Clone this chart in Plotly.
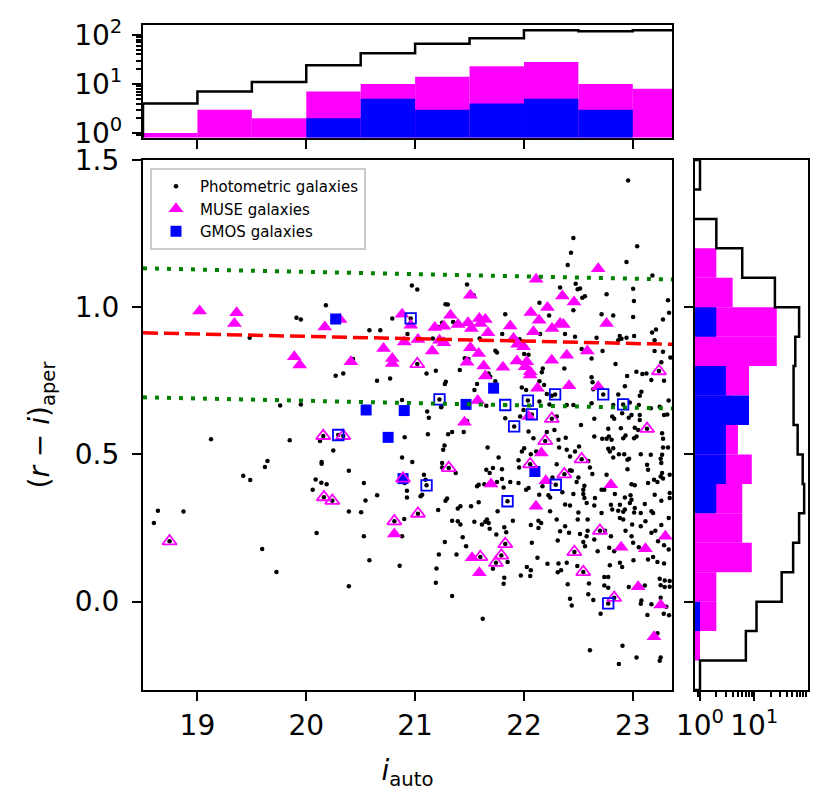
import numpy as np
import plotly.graph_objects as go

# ---- colour-magnitude data: (i_auto, (r-i)_aper) ----
phot_points = [
    (20.18, 1.007), (19.91, 0.964), (19.95, 0.958), (19.48, 0.896), (20.58, 0.922), (20.68, 0.922),
    (20.79, 0.962), (20.97, 1.074), (21.02, 1.06), (20.93, 0.909), (20.43, 0.824), (20.27, 0.767),
    (20.34, 0.775), (20.65, 0.75), (20.77, 0.758), (19.76, 0.666), (19.95, 0.67), (20.88, 0.685),
    (22.957, 1.430), (22.454, 1.235), (23.04, 1.207), (22.432, 1.185), (22.942, 1.154), (22.402, 1.143),
    (23.18, 1.108), (21.477, 1.077), (21.538, 1.041), (22.332, 1.067), (22.475, 1.080), (22.493, 1.061),
    (22.515, 1.064), (22.536, 1.032), (22.56, 1.037), (22.759, 1.044), (23.003, 1.063), (23.01, 1.021),
    (23.323, 1.024), (21.279, 1.010), (21.30, 1.009), (22.142, 1.015), (22.231, 0.972), (22.454, 0.990),
    (22.713, 0.976), (22.82, 0.972), (23.003, 0.967), (23.333, 0.981), (21.828, 0.976), (23.277, 0.958),
    (21.248, 0.947), (21.218, 0.933), (21.349, 0.950), (21.593, 0.894), (21.80, 0.909), (21.96, 0.891),
    (22.148, 0.909), (22.377, 0.909), (22.469, 0.900), (22.667, 0.896), (22.88, 0.902), (22.896, 0.893),
    (22.942, 0.896), (23.177, 0.914), (23.213, 0.924), (23.20, 0.888), (23.012, 0.902), (21.163, 0.894),
    (21.996, 0.883), (22.866, 0.888), (22.53, 0.858), (22.621, 0.826), (22.722, 0.851), (23.20, 0.851),
    (23.277, 0.849), (23.345, 0.829), (21.737, 0.852), (21.752, 0.846), (22.002, 0.841), (22.042, 0.839),
    (21.456, 0.827), (21.49, 0.824), (23.262, 0.813), (21.105, 0.775), (21.19, 0.784), (21.41, 0.787),
    (22.173, 0.792), (22.164, 0.779), (22.371, 0.792), (22.841, 0.807), (23.033, 0.781), (23.088, 0.773),
    (23.125, 0.775), (22.948, 0.766), (23.17, 0.753), (23.287, 0.750), (22.621, 0.762), (22.63, 0.745),
    (22.636, 0.721), (23.079, 0.713), (23.064, 0.699), (22.927, 0.732), (22.866, 0.704), (21.282, 0.747),
    (21.273, 0.739), (21.569, 0.739), (21.545, 0.719), (21.675, 0.775), (21.69, 0.764), (21.737, 0.749),
    (21.98, 0.727), (22.02, 0.719), (22.142, 0.749), (22.185, 0.736), (22.21, 0.705), (22.255, 0.699),
    (22.142, 0.680), (22.234, 0.670), (22.393, 0.668), (22.454, 0.668), (22.621, 0.674), (22.82, 0.668),
    (22.972, 0.676), (23.055, 0.668), (23.329, 0.683), (23.247, 0.662), (21.24, 0.660), (21.599, 0.676),
    (21.654, 0.665),
    (19.125, 0.552), (19.848, 0.548), (20.126, 0.546), (20.248, 0.513), (20.904, 0.558), (20.88, 0.490),
    (19.644, 0.478), (19.62, 0.457), (20.141, 0.474), (20.141, 0.468), (20.391, 0.445), (19.421, 0.428),
    (19.485, 0.413), (20.086, 0.415), (20.138, 0.404), (20.187, 0.399), (20.059, 0.380), (20.529, 0.403),
    (20.651, 0.361), (20.544, 0.344), (20.925, 0.377), (20.925, 0.354), (18.637, 0.309), (18.872, 0.306),
    (18.6, 0.267), (20.391, 0.306), (20.504, 0.304), (20.9, 0.281), (20.095, 0.233), (20.529, 0.222),
    (20.88, 0.222), (19.595, 0.179), (20.58, 0.141), (20.858, 0.122), (19.726, 0.101), (20.391, 0.052),
    (21.111, 0.646), (21.126, 0.625), (21.239, 0.662), (21.477, 0.614), (21.828, 0.623), (21.965, 0.629),
    (21.996, 0.651), (21.117, 0.569), (21.303, 0.569), (21.34, 0.576), (21.447, 0.576), (22.042, 0.578),
    (22.087, 0.555), (21.27, 0.530), (21.258, 0.516), (21.666, 0.524), (21.981, 0.510), (22.002, 0.521),
    (22.063, 0.501), (22.112, 0.510), (20.974, 0.474), (21.248, 0.471), (21.248, 0.456), (21.373, 0.437),
    (21.767, 0.490), (21.95, 0.480), (21.956, 0.456), (21.654, 0.448), (21.715, 0.454), (21.798, 0.450),
    (21.685, 0.437), (21.081, 0.431), (21.096, 0.414), (20.904, 0.403), (21.569, 0.392), (21.584, 0.397),
    (21.636, 0.399), (21.752, 0.406), (21.798, 0.417), (21.813, 0.388), (21.874, 0.406), (21.95, 0.403),
    (22.02, 0.380), (22.042, 0.386), (21.05, 0.358), (21.065, 0.363), (21.279, 0.343), (21.294, 0.350),
    (21.514, 0.324), (21.584, 0.338), (21.392, 0.316), (21.416, 0.324), (21.212, 0.311), (21.758, 0.307),
    (21.34, 0.275), (21.392, 0.273), (21.416, 0.262), (21.544, 0.271), (21.614, 0.262), (21.66, 0.279),
    (21.676, 0.267), (21.645, 0.271), (21.685, 0.248), (21.746, 0.228), (21.819, 0.253), (21.837, 0.236),
    (21.898, 0.275), (22.063, 0.260), (22.133, 0.275), (22.133, 0.250), (21.273, 0.203), (21.437, 0.219),
    (21.468, 0.188), (22.072, 0.200),
    (22.301, 0.629), (22.524, 0.600), (22.646, 0.621), (22.829, 0.621), (22.811, 0.629), (22.902, 0.640),
    (22.963, 0.625), (22.988, 0.634), (23.064, 0.634), (23.064, 0.617), (23.165, 0.657), (23.287, 0.634),
    (23.317, 0.636), (22.774, 0.587), (22.78, 0.561), (22.89, 0.589), (23.018, 0.591), (23.049, 0.583),
    (22.21, 0.576), (22.28, 0.583), (22.646, 0.561), (22.933, 0.564), (22.912, 0.555), (23.012, 0.555),
    (23.034, 0.561), (23.269, 0.572), (23.278, 0.553), (22.317, 0.550), (22.384, 0.557), (22.719, 0.553),
    (22.759, 0.553), (22.805, 0.550), (22.774, 0.519), (22.82, 0.521), (22.789, 0.510), (22.323, 0.524),
    (22.393, 0.516), (22.469, 0.510), (22.506, 0.527), (22.423, 0.493), (22.872, 0.501), (22.921, 0.501),
    (22.82, 0.490), (23.073, 0.501), (23.165, 0.499), (23.269, 0.499), (23.278, 0.524), (23.323, 0.524),
    (23.256, 0.485), (23.262, 0.471), (22.966, 0.485), (22.951, 0.482), (22.591, 0.478), (23.131, 0.465),
    (23.14, 0.448), (22.301, 0.467), (22.423, 0.446), (22.439, 0.445), (22.606, 0.456), (22.628, 0.434),
    (22.759, 0.431), (22.951, 0.450), (23.269, 0.437), (23.256, 0.425), (23.278, 0.418), (23.195, 0.414),
    (23.226, 0.406), (23.339, 0.431), (22.5, 0.422), (22.484, 0.406), (22.262, 0.422), (22.555, 0.394),
    (22.545, 0.380), (22.988, 0.399), (23.018, 0.395), (23.14, 0.403), (22.17, 0.392), (22.14, 0.363),
    (22.225, 0.361), (22.24, 0.354), (22.353, 0.372), (22.454, 0.366), (22.713, 0.380), (22.738, 0.380),
    (22.835, 0.366), (22.545, 0.366), (22.555, 0.352), (22.927, 0.354), (22.979, 0.361), (22.988, 0.346),
    (22.973, 0.335), (22.652, 0.352), (22.576, 0.335), (22.378, 0.330), (22.423, 0.327), (22.646, 0.327),
    (23.11, 0.332), (23.201, 0.363), (23.339, 0.352), (23.262, 0.343), (22.799, 0.329), (22.811, 0.313),
    (22.881, 0.329), (22.866, 0.309), (22.912, 0.305), (22.927, 0.313), (23.018, 0.318), (23.012, 0.303),
    (23.073, 0.301), (23.171, 0.307), (23.186, 0.301), (22.24, 0.307), (22.5, 0.303), (22.713, 0.301),
    (22.158, 0.267), (22.301, 0.279), (22.378, 0.256), (22.494, 0.279), (22.585, 0.279), (22.881, 0.284),
    (22.912, 0.279), (22.994, 0.262), (23.073, 0.256), (23.116, 0.273), (23.262, 0.260), (23.33, 0.284),
    (22.332, 0.239), (22.414, 0.234), (22.515, 0.230), (22.585, 0.241), (22.576, 0.222), (22.744, 0.241),
    (22.799, 0.222), (22.933, 0.241), (22.988, 0.222), (23.171, 0.234), (23.207, 0.241), (22.31, 0.208),
    (22.545, 0.203), (22.561, 0.188), (22.646, 0.211), (23.003, 0.200), (23.055, 0.185), (23.232, 0.205),
    (23.339, 0.369),
    (21.218, 0.160), (21.38, 0.160), (21.196, 0.113), (21.19, 0.064), (21.34, 0.019), (21.621, -0.058),
    (21.85, 0.135), (21.715, 0.112), (21.819, 0.081), (21.813, 0.061), (21.971, 0.089), (22.026, 0.118),
    (22.063, 0.107), (22.057, 0.087), (22.124, 0.149),
    (22.216, 0.129), (22.317, 0.130), (22.341, 0.107), (22.31, 0.100), (22.393, 0.132), (22.49, 0.121),
    (22.677, 0.171), (22.783, 0.183), (22.829, 0.171), (22.789, 0.124), (22.881, 0.132), (22.902, 0.118),
    (23.006, 0.141), (23.14, 0.143), (23.186, 0.152), (23.226, 0.135), (23.287, 0.130), (23.287, 0.192),
    (23.33, 0.177), (22.402, 0.059), (22.597, 0.062), (22.591, 0.025), (22.738, 0.084), (22.774, 0.084),
    (22.738, 0.055), (22.774, 0.047), (22.637, 0.006), (22.423, 0.010), (22.439, -0.013), (22.704, -0.041),
    (22.963, 0.050), (23.11, 0.055), (23.079, 0.004), (23.073, -0.007), (23.171, -0.009), (23.134, -0.045),
    (23.247, 0.078), (23.293, 0.072), (23.339, 0.070), (23.256, 0.056), (23.293, 0.050), (23.339, 0.051),
    (23.256, 0.013), (23.284, -0.041), (23.333, -0.046), (23.308, -0.017), (23.226, -0.107), (22.606, -0.165),
    (22.905, -0.150), (23.034, -0.190), (22.872, -0.212), (23.256, -0.190), (23.247, -0.201),
]

muse_points = [
    (19.02, 0.987), (19.36, 0.981), (19.34, 0.945), (20.17, 0.933), (20.31, 0.958), (19.89, 0.832),
    (19.94, 0.804), (20.41, 0.815), (20.71, 0.86), (20.79, 0.826), (20.79, 0.809), (20.9, 0.882),
    (20.88, 0.976), (20.96, 0.939),
    (22.682, 1.131), (22.112, 1.095), (21.508, 1.041), (22.353, 1.038), (22.46, 1.018), (22.216, 0.999),
    (22.063, 0.982), (21.325, 0.973), (22.139, 0.956), (21.59, 0.962), (21.645, 0.958), (21.181, 0.931),
    (21.264, 0.935), (21.395, 0.941), (21.486, 0.947), (21.517, 0.928), (21.6, 0.945), (21.874, 0.936),
    (21.67, 0.913), (22.087, 0.917), (22.258, 0.928), (22.332, 0.945), (22.362, 0.941), (22.759, 0.945),
    (21.026, 0.890), (21.224, 0.888), (21.264, 0.879), (21.904, 0.894), (21.941, 0.874), (21.996, 0.866),
    (21.157, 0.851), (21.508, 0.862), (21.584, 0.843), (22.582, 0.851), (22.393, 0.837), (21.477, 0.813),
    (21.63, 0.800), (21.807, 0.796), (21.935, 0.817), (22.026, 0.815), (22.011, 0.798), (22.057, 0.781),
    (22.057, 0.770), (22.255, 0.820), (21.645, 0.766), (22.124, 0.725), (22.414, 0.733), (22.682, 0.730),
    (21.575, 0.683),
    (20.809, 0.230), (21.453, 0.609), (21.697, 0.400), (22.11, 0.324), (22.042, 0.629), (22.16, 0.505),
    (22.201, 0.411), (22.799, 0.397), (23.299, 0.222), (22.893, 0.185), (23.116, 0.180),
    (21.523, 0.149), (21.59, 0.098), (23.049, 0.051), (23.256, -0.011), (23.195, -0.119),
]

muse_open_points = [
    (21.02, 0.807), (23.24, 0.783), (20.156, 0.563), (20.34, 0.563), (20.162, 0.355), (20.239, 0.343),
    (18.744, 0.205), (20.809, 0.273), (21.309, 0.454), (21.026, 0.299), (22.057, 0.467), (21.828, 0.196),
    (22.256, 0.621), (22.195, 0.546), (22.53, 0.484), (22.371, 0.433), (23.131, 0.587), (22.698, 0.241),
    (21.599, 0.152), (21.743, 0.132), (21.792, 0.157), (22.463, 0.169), (22.545, 0.101), (22.829, 0.013),
    (20.889, 0.418),
]

gmos_points = [
    (20.27, 0.96), (20.55, 0.651), (20.9, 0.649), (20.752, 0.558), (20.889, 0.418), (21.721, 0.725),
    (21.468, 0.670), (22.1, 0.442),
]

gmos_open_points = [
    (20.959, 0.962), (21.224, 0.687), (21.828, 0.668), (22.036, 0.683), (22.286, 0.704), (22.728, 0.704),
    (22.911, 0.670), (20.294, 0.566), (21.91, 0.595), (22.072, 0.636), (21.105, 0.395), (21.849, 0.341),
    (22.292, 0.397), (22.774, -0.006),
]

# red-sequence fit (dashed) and its +/- envelope (dotted)
fit_mag = [18.5, 23.36]
fit_col = [0.913, 0.874]
fit_upper = [1.132, 1.094]
fit_lower = [0.694, 0.656]

# ---- top histogram: i_auto, bins of 0.5 mag from 18.5 ----
mag_edges = [18.5, 19.0, 19.5, 20.0, 20.5, 21.0, 21.5, 22.0, 22.5, 23.0, 23.5]
phot_mag_counts = [4, 7, 11, 24, 42, 66, 85, 124, 118, 124]
muse_mag_counts = [1, 3, 2, 7, 10, 14, 23, 28, 10, 8]
gmos_mag_counts = [0, 0, 0, 2, 5, 3, 4, 5, 3, 0]

# ---- right histogram: (r-i)_aper, bins of 0.1 from -0.3 ----
col_edges = [-0.3, -0.2, -0.1, 0.0, 0.1, 0.2, 0.3, 0.4, 0.5, 0.6, 0.7, 0.8, 0.9, 1.0, 1.1, 1.2, 1.3, 1.4, 1.5]
phot_col_counts = [1, 7, 11, 32, 52, 67, 83, 78, 63, 53, 53, 57, 67, 24, 6, 2, 0, 1]
muse_col_counts = [0, 1, 2, 2, 9, 6, 6, 9, 5, 4, 8, 26, 26, 4, 2, 0, 0, 0]
gmos_col_counts = [0, 0, 1, 0, 0, 0, 2, 3, 3, 8, 3, 0, 2, 0, 0, 0, 0, 0]


def unzip(points):
    a = np.array(points, dtype=float)
    return a[:, 0], a[:, 1]


def step_path(edges, counts, floor=0.1):
    # closed histtype='step' outline; empty bins drop below the log axis
    c = np.where(np.array(counts) > 0, counts, floor).astype(float)
    e = np.array(edges, dtype=float)
    pos = np.concatenate([[e[0]], np.repeat(e, 2)[1:-1], [e[-1]]])
    val = np.concatenate([[floor], np.repeat(c, 2), [floor]])
    return pos, val


def nz(counts):
    return [c if c > 0 else None for c in counts]


FONT = "DejaVu Sans"
MAGENTA = "#ff00ff"
BLUE = "#0000ff"

phot_x, phot_y = unzip(phot_points)
muse_x, muse_y = unzip(muse_points)
museo_x, museo_y = unzip(muse_open_points)
gmos_x, gmos_y = unzip(gmos_points)
gmoso_x, gmoso_y = unzip(gmos_open_points)

# open markers sit on photometric galaxies, so a dot shows through them
dot_x = np.concatenate([phot_x, museo_x, gmoso_x])
dot_y = np.concatenate([phot_y, museo_y, gmoso_y])

fig = go.Figure()

# main colour-magnitude panel
fig.add_trace(go.Scatter(x=dot_x, y=dot_y, mode="markers", name="Photometric galaxies",
                         marker=dict(size=4.5, color="black"), xaxis="x", yaxis="y"))
fig.add_trace(go.Scatter(x=muse_x, y=muse_y, mode="markers", name="MUSE galaxies",
                         marker=dict(symbol="triangle-up", size=13, color=MAGENTA, line=dict(width=0)),
                         xaxis="x", yaxis="y"))
fig.add_trace(go.Scatter(x=gmos_x, y=gmos_y, mode="markers", name="GMOS galaxies",
                         marker=dict(symbol="square", size=11, color=BLUE, line=dict(width=0)),
                         xaxis="x", yaxis="y"))
fig.add_trace(go.Scatter(x=museo_x, y=museo_y, mode="markers", showlegend=False,
                         marker=dict(symbol="triangle-up-open", size=12.5, color=MAGENTA, line=dict(width=1.8)),
                         xaxis="x", yaxis="y"))
fig.add_trace(go.Scatter(x=gmoso_x, y=gmoso_y, mode="markers", showlegend=False,
                         marker=dict(symbol="square-open", size=10.5, color=BLUE, line=dict(width=1.8)),
                         xaxis="x", yaxis="y"))
for yy in (fit_upper, fit_lower):
    fig.add_trace(go.Scatter(x=fit_mag, y=yy, mode="lines", showlegend=False,
                             line=dict(color="green", width=4, dash="4px,8px"), xaxis="x", yaxis="y"))
fig.add_trace(go.Scatter(x=fit_mag, y=fit_col, mode="lines", showlegend=False,
                         line=dict(color="red", width=3.5, dash="15px,6px"), xaxis="x", yaxis="y"))

# top histogram (magnitudes)
mag_centers = 0.5 * (np.array(mag_edges[:-1]) + np.array(mag_edges[1:]))
fig.add_trace(go.Bar(x=mag_centers, y=nz(muse_mag_counts), width=0.5, marker=dict(color=MAGENTA, line=dict(width=0)),
                     showlegend=False, xaxis="x2", yaxis="y2"))
fig.add_trace(go.Bar(x=mag_centers, y=nz(gmos_mag_counts), width=0.5, marker=dict(color=BLUE, line=dict(width=0)),
                     showlegend=False, xaxis="x2", yaxis="y2"))
sx, sy = step_path(mag_edges, phot_mag_counts)
fig.add_trace(go.Scatter(x=sx, y=sy, mode="lines", line=dict(color="black", width=2.5),
                         showlegend=False, xaxis="x2", yaxis="y2"))

# right histogram (colours)
col_centers = 0.5 * (np.array(col_edges[:-1]) + np.array(col_edges[1:]))
fig.add_trace(go.Bar(y=col_centers, x=nz(muse_col_counts), width=0.1, orientation="h",
                     marker=dict(color=MAGENTA, line=dict(width=0)), showlegend=False, xaxis="x3", yaxis="y3"))
fig.add_trace(go.Bar(y=col_centers, x=nz(gmos_col_counts), width=0.1, orientation="h",
                     marker=dict(color=BLUE, line=dict(width=0)), showlegend=False, xaxis="x3", yaxis="y3"))
sy2, sx2 = step_path(col_edges, phot_col_counts)
fig.add_trace(go.Scatter(x=sx2, y=sy2, mode="lines", line=dict(color="black", width=2.5),
                         showlegend=False, xaxis="x3", yaxis="y3"))

# the page body adds an 8px offset, so the figure is 8px smaller and positions are shifted
OFF = 8
W, H = 831 - OFF, 809 - OFF


def px_x(a, b):
    return [(a - OFF) / W, (b - OFF) / W]


def px_y(top, bottom):
    return [1 - (bottom - OFF) / H, 1 - (top - OFF) / H]


main_x = px_x(143, 672)
main_y = px_y(160, 690)
top_y = px_y(25, 137.5)
right_x = px_x(695, 808)

axis_common = dict(showline=True, linecolor="black", linewidth=2.2, mirror=True, ticks="outside",
                   ticklen=9, tickwidth=2, tickcolor="black", showgrid=False, zeroline=False,
                   automargin=False, tickfont=dict(family=FONT, size=28, color="black"))

decade_minor = [m * 10 ** d for d in (-1, 0, 1, 2) for m in range(2, 10)]
minor_log = dict(ticks="outside", ticklen=5, tickwidth=1.5, tickcolor="black", tickvals=decade_minor, showgrid=False)

fig.update_layout(
    width=W, height=H, margin=dict(l=0, r=0, t=0, b=0),
    plot_bgcolor="white", paper_bgcolor="white", barmode="overlay",
    font=dict(family=FONT, color="black"),
    xaxis=dict(axis_common, domain=main_x, range=[18.5, 23.36], anchor="y",
               tickvals=[19, 20, 21, 22, 23],
               title=dict(text="<i>i</i><sub>auto</sub>", font=dict(family=FONT, size=28), standoff=20)),
    yaxis=dict(axis_common, domain=main_y, range=[-0.3, 1.5], anchor="x",
               tickvals=[0.0, 0.5, 1.0, 1.5], tickformat=".1f", ticklabelstandoff=7,
               title=dict(text="(<i>r</i> \u2212 <i>i</i>)<sub>aper</sub>", font=dict(family=FONT, size=28),
                          standoff=17)),
    xaxis2=dict(axis_common, domain=main_x, matches="x", anchor="y2", showticklabels=False,
                tickvals=[19, 20, 21, 22, 23]),
    yaxis2=dict(axis_common, domain=top_y, type="log", range=[-0.09, 2.2], anchor="x2",
                tickvals=[1, 10, 100], ticktext=["10<sup>0</sup>", "10<sup>1</sup>", "10<sup>2</sup>"],
                ticklabelstandoff=4, minor=minor_log),
    xaxis3=dict(axis_common, domain=right_x, type="log", range=[-0.092, 1.99], anchor="y3",
                tickvals=[1, 10], ticktext=["10<sup>0</sup>", "10<sup>1</sup>"], minor=minor_log),
    yaxis3=dict(axis_common, domain=main_y, matches="y", anchor="x3", showticklabels=False,
                tickvals=[0.0, 0.5, 1.0]),
    legend=dict(x=(150 - OFF) / W, y=1 - (168 - OFF) / H, xanchor="left", yanchor="top",
                bordercolor="#cccccc", borderwidth=2, bgcolor="rgba(255,255,255,0.85)", itemwidth=38,
                font=dict(family=FONT, size=15, color="black"), tracegroupgap=0),
)

fig.write_html("out.html")
